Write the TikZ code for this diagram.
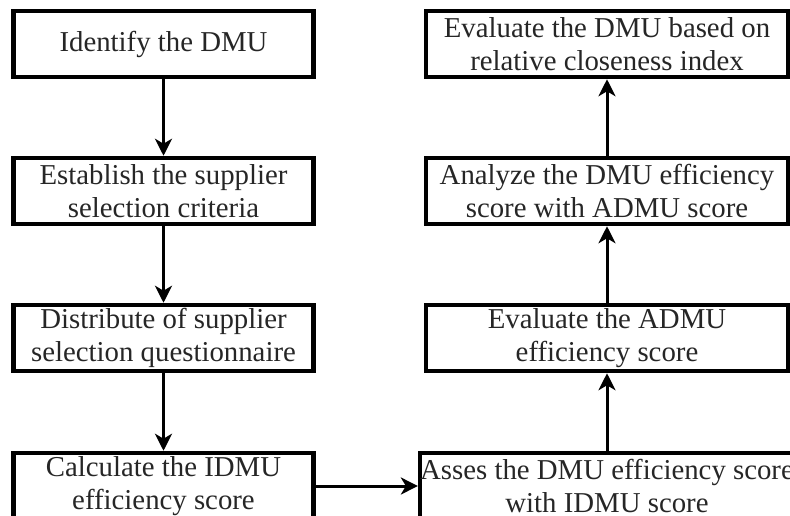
\documentclass[tikz,border=0pt]{standalone}
\usepackage{fontspec}
\setmainfont{Liberation Serif}
\usetikzlibrary{arrows.meta}

\begin{document}
\begin{tikzpicture}[x=1pt, y=-1pt,
    stepbox/.style={draw, line width=4.5pt, minimum width=300pt, minimum height=66pt,
        inner sep=0pt, align=center, text=black!85, font=\fontsize{28.8}{33}\selectfont},
    widebox/.style={stepbox, minimum width=362pt},
    flow/.style={-{Stealth[length=17pt, width=17pt, inset=5pt]}, line width=3pt}]
    \clip (0,0) rectangle (790,515);

    % Left column
    \node[stepbox] (identify) at (163.5,44) {Identify the DMU};
    \node[stepbox] (criteria) at (163.5,191) {Establish the supplier\\selection criteria};
    \node[stepbox] (questionnaire) at (163.5,338) {Distribute of supplier\\selection questionnaire};
    \node[stepbox] (idmu) at (163.5,486) {Calculate the IDMU\\efficiency score};

    % Right column
    \node[widebox] (closeness) at (607,44) {Evaluate the DMU based on\\relative closeness index};
    \node[widebox] (analyze) at (607,191) {Analyze the DMU efficiency\\score with ADMU score};
    \node[widebox] (admu) at (607,338) {Evaluate the ADMU\\efficiency score};
    \node[widebox] (assess) at (607,486) {Asses the DMU efficiency score\\with IDMU score};

    % Arrows
    \draw[flow] (identify) -- (criteria);
    \draw[flow] (criteria) -- (questionnaire);
    \draw[flow] (questionnaire) -- (idmu);
    \draw[flow] (idmu) -- (assess);
    \draw[flow] (assess) -- (admu);
    \draw[flow] (admu) -- (analyze);
    \draw[flow] (analyze) -- (closeness);
\end{tikzpicture}
\end{document}
